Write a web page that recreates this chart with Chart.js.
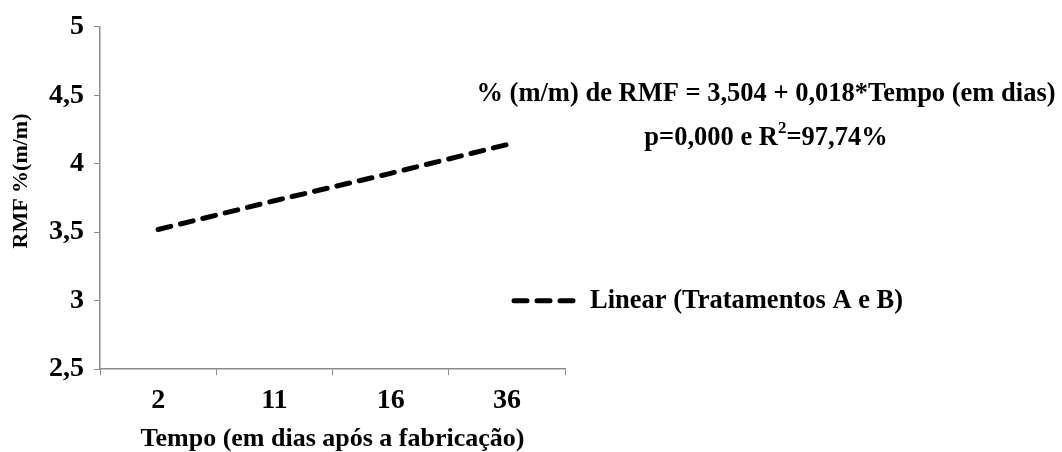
<!DOCTYPE html>
<html>
<head>
<meta charset="utf-8">
<script src="https://cdn.jsdelivr.net/npm/chart.js@4.4.1/dist/chart.umd.min.js"></script>
<style>
  html, body { margin: 0; padding: 0; background: #fff; }
  #wrap { width: 1062px; height: 452px; position: relative; }
</style>
</head>
<body>
<div id="wrap"><canvas id="chart" aria-label="RMF trend chart"></canvas></div>
<script>
const DAYS = ['2', '11', '16', '36'];
const RMF_TREND = [3.52, 3.73, 3.93, 4.14];
const SERIES_LABEL = 'Linear (Tratamentos A e B)';
const EQUATION_LINE1 = '% (m/m) de RMF = 3,504 + 0,018*Tempo (em dias)';
// second line is split around the superscript 2 of R²
const EQUATION_LINE2 = ['p=0,000 e R', '2', '=97,74%'];
const Y_RANGE = [2.5, 5];
const Y_STEP = 0.5;
const X_TITLE = 'Tempo (em dias após a fabricação)';
const Y_TITLE = 'RMF %(m/m)';

const SERIF = "'Liberation Serif', 'Times New Roman', serif";
const AXIS_GREY = '#8c8c8c';
const NOTE_FONT = 'bold 26.5px ' + SERIF;
const SUP_FONT = 'bold 17px ' + SERIF;

const fmt = v => String(v).replace('.', ',');

// legend, y title and regression text, drawn after the chart
const notes = {
  id: 'notes',
  afterDraw(chart) {
    const { ctx, scales } = chart;
    const ds = chart.data.datasets[0];
    ctx.save();
    ctx.fillStyle = '#000';
    ctx.textBaseline = 'middle';

    // y title sits a bit above the middle of the axis in the original
    ctx.save();
    ctx.translate(21, 181);
    ctx.rotate(-Math.PI / 2);
    ctx.textAlign = 'center';
    ctx.font = 'bold 22px ' + SERIF;
    ctx.fillText(Y_TITLE, 0, 0);
    ctx.restore();

    ctx.font = NOTE_FONT;
    // legend entry, lined up with the 3 tick like the original
    const ly = scales.y.getPixelForValue(3);
    ctx.strokeStyle = ds.borderColor;
    ctx.lineWidth = ds.borderWidth;
    ctx.lineCap = 'round';
    ctx.setLineDash(ds.borderDash);
    ctx.beginPath();
    ctx.moveTo(514, ly);
    ctx.lineTo(573, ly);
    ctx.stroke();
    ctx.setLineDash([]);
    ctx.textAlign = 'left';
    ctx.fillText(SERIES_LABEL, 590, ly);

    // regression equation
    ctx.textAlign = 'center';
    ctx.fillText(EQUATION_LINE1, 766, 94);

    ctx.textAlign = 'left';
    const [a, sup, b] = EQUATION_LINE2;
    const wa = ctx.measureText(a).width;
    const wb = ctx.measureText(b).width;
    ctx.font = SUP_FONT;
    const ws = ctx.measureText(sup).width;
    let x = 766 - (wa + ws + wb) / 2;
    const y = 138;
    ctx.font = NOTE_FONT;
    ctx.fillText(a, x, y);
    x += wa;
    ctx.font = SUP_FONT;
    ctx.fillText(sup, x, y - 9);
    x += ws;
    ctx.font = NOTE_FONT;
    ctx.fillText(b, x, y);
    ctx.restore();
  }
};

new Chart(document.getElementById('chart'), {
  type: 'line',
  data: {
    labels: DAYS,
    datasets: [{
      label: SERIES_LABEL,
      data: RMF_TREND,
      borderColor: '#000',
      borderWidth: 5,
      borderDash: [13, 10],
      borderCapStyle: 'round',
      pointRadius: 0,
      fill: false,
      tension: 0,
    }]
  },
  options: {
    responsive: true,
    maintainAspectRatio: false,
    animation: false,
    layout: { padding: { top: -3, right: 497, bottom: 0, left: 39 } },
    plugins: {
      legend: { display: false },
      tooltip: { enabled: false },
    },
    scales: {
      x: {
        offset: true,
        grid: {
          offset: true,
          drawOnChartArea: false,
          color: AXIS_GREY,
          tickLength: 6,
        },
        border: { color: AXIS_GREY, width: 1.5 },
        ticks: {
          color: '#000',
          padding: 10,
          font: { family: SERIF, size: 28, weight: 'bold', lineHeight: 1.1 },
        },
        title: {
          display: true,
          text: X_TITLE,
          color: '#000',
          padding: { top: 0, bottom: 0 },
          font: { family: SERIF, size: 26, weight: 'bold', lineHeight: 1 },
        },
      },
      y: {
        min: Y_RANGE[0],
        max: Y_RANGE[1],
        grid: {
          drawOnChartArea: false,
          color: AXIS_GREY,
          tickLength: 6,
        },
        border: { color: AXIS_GREY, width: 1.5 },
        ticks: {
          stepSize: Y_STEP,
          color: '#000',
          padding: 10,
          callback: v => fmt(v),
          font: { family: SERIF, size: 28, weight: 'bold' },
        },
      },
    },
  },
  plugins: [notes],
});
</script>
</body>
</html>
